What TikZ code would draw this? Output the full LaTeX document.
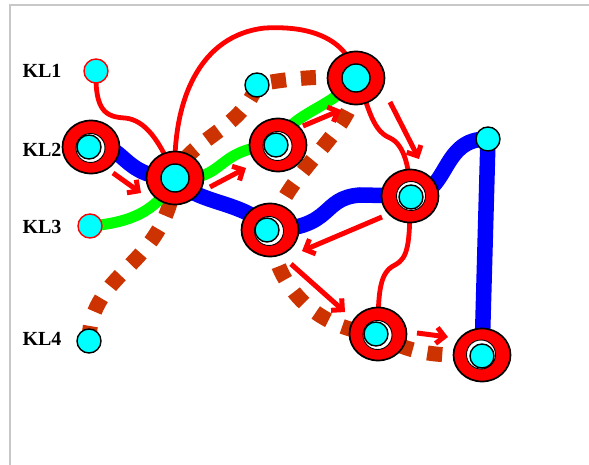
\documentclass[tikz,border=0pt]{standalone}
\usepackage{fontspec}
\setmainfont{Liberation Serif}
\usetikzlibrary{shapes.geometric,arrows.meta}
\definecolor{rust}{RGB}{204,51,0}
\definecolor{aqua}{RGB}{0,255,255}
\definecolor{pureblue}{RGB}{0,0,255}
\definecolor{puregreen}{RGB}{0,255,0}
\definecolor{purered}{RGB}{255,0,0}
\definecolor{framegray}{RGB}{200,200,200}
\tikzset{
  station/.style={ellipse, draw=black, line width=1.7pt, fill=purered,
    minimum width=57pt, minimum height=53pt, inner sep=0pt},
  hub/.style={circle, draw=black, line width=1.4pt, fill=aqua,
    minimum size=#1, inner sep=0pt},
  hub/.default=24pt,
  halo/.style={circle, draw=black, line width=0.9pt, fill=white,
    minimum size=29pt, inner sep=0pt},
  endred/.style={circle, draw=purered, line width=1.4pt, fill=aqua,
    minimum size=24pt, inner sep=0pt},
  endblack/.style={circle, draw=black, line width=1.4pt, fill=aqua,
    minimum size=24pt, inner sep=0pt},
  lineblue/.style={pureblue, line width=15.5pt},
  linegreen/.style={puregreen, line width=11pt},
  linerust/.style={rust, line width=15pt, dash pattern=on 15pt off 15pt},
  linered/.style={purered, line width=4.8pt},
  flow/.style={purered, line width=5pt, -{Straight Barb[length=8pt,width=16pt]}},
  tag/.style={font=\bfseries\fontsize{20}{22}\selectfont, anchor=center}
}
\begin{document}
\begin{tikzpicture}[x=1pt,y=-1pt]
\useasboundingbox (0,0) rectangle (589,465);
\draw[framegray, line width=2pt] (10,465) -- (10,5) -- (589,5);

% line labels
\node[tag] (kl1) at (42,71) {KL1};
\node[tag] (kl2) at (42,150) {KL2};
\node[tag] (kl3) at (42,227) {KL3};
\node[tag] (kl4) at (42,339) {KL4};

% reference points of stations and end stops
\coordinate (p1) at (91,147);
\coordinate (p2) at (175,178);
\coordinate (p3) at (278,145);
\coordinate (p4) at (356,78);
\coordinate (p5) at (410,196);
\coordinate (p6) at (270,230);
\coordinate (p7) at (378,334);
\coordinate (p8) at (482,355);

% line KL4 (dashed)
\draw[linerust] (89,341) .. controls (90,270) and (165,268) .. (p2)
  .. controls (185,140) and (240,132) .. (257,85)
  .. controls (275,80) and (320,75) .. (p4)
  .. controls (358,130) and (290,165) .. (p6)
  .. controls (275,290) and (320,330) .. (p7)
  .. controls (410,355) and (440,356) .. (p8);

% line KL2 (blue)
\draw[lineblue] (p1) .. controls (125,140) and (120,178) .. (p2)
  .. controls (195,205) and (245,200) .. (p6)
  .. controls (335,228) and (320,198) .. (360,195) -- (p5)
  .. controls (450,195) and (440,138) .. (488,139) -- (p8);

% line KL3 (green)
\draw[linegreen] (90,226) .. controls (140,222) and (160,205) .. (p2)
  .. controls (228,182) and (212,148) .. (p3)
  .. controls (290,112) and (330,110) .. (p4);

% line KL1 (red)
\draw[linered] (96,71) .. controls (95,110) and (105,117) .. (125,118)
  .. controls (145,120) and (160,140) .. (p2)
  .. controls (172,100) and (200,35) .. (265,28)
  .. controls (320,25) and (350,45) .. (p4)
  .. controls (368,100) and (370,130) .. (390,138)
  .. controls (405,145) and (410,170) .. (p5)
  .. controls (410,245) and (408,258) .. (395,265)
  .. controls (380,272) and (378,290) .. (p7);

% stations
\node[station] (s1) at (p1) {};
\node[halo] at (90.5,148) {};
\node[hub] (h1) at (89,147) {};
\node[station] (s2) at (p2) {};
\node[hub=28pt] (h2) at (175,178) {};
\node[station] (s3) at (p3) {};
\node[halo] at (277.5,146) {};
\node[hub] (h3) at (276,145) {};
\node[station] (s4) at (p4) {};
\node[hub=28pt] (h4) at (356,78) {};
\node[station] (s5) at (p5) {};
\node[halo] at (411,196) {};
\node[hub] (h5) at (411,197) {};
\node[station] (s6) at (p6) {};
\node[halo] at (269,231) {};
\node[hub] (h6) at (267,230) {};
\node[station] (s7) at (p7) {};
\node[halo] at (377.5,335) {};
\node[hub] (h7) at (376,334) {};
\node[station] (s8) at (p8) {};
\node[halo] at (481,354.5) {};
\node[hub] (h8) at (482,356) {};

% end stops
\node[endred] (e1) at (96,71) {};
\node[endred] (e3) at (90,226) {};
\node[endblack] (e4) at (89,341) {};
\node[endblack] (e5) at (257,85) {};
\node[endblack] (e6) at (488,139) {};

% direction arrows
\coordinate (a1s) at (113,173); \coordinate (a1e) at (141,193);
\coordinate (a2s) at (210,187); \coordinate (a2e) at (246,168);
\coordinate (a3s) at (303,126); \coordinate (a3e) at (341,110);
\coordinate (a4s) at (390,102); \coordinate (a4e) at (419,159);
\coordinate (a5s) at (382,217); \coordinate (a5e) at (302,251);
\coordinate (a6s) at (291,264); \coordinate (a6e) at (345,312);
\coordinate (a7s) at (417,333); \coordinate (a7e) at (448,337);
\draw[flow] (a1s) -- (a1e);
\draw[flow] (a2s) -- (a2e);
\draw[flow] (a3s) -- (a3e);
\draw[flow] (a4s) -- (a4e);
\draw[flow] (a5s) -- (a5e);
\draw[flow] (a6s) -- (a6e);
\draw[flow] (a7s) -- (a7e);
\end{tikzpicture}
\end{document}
